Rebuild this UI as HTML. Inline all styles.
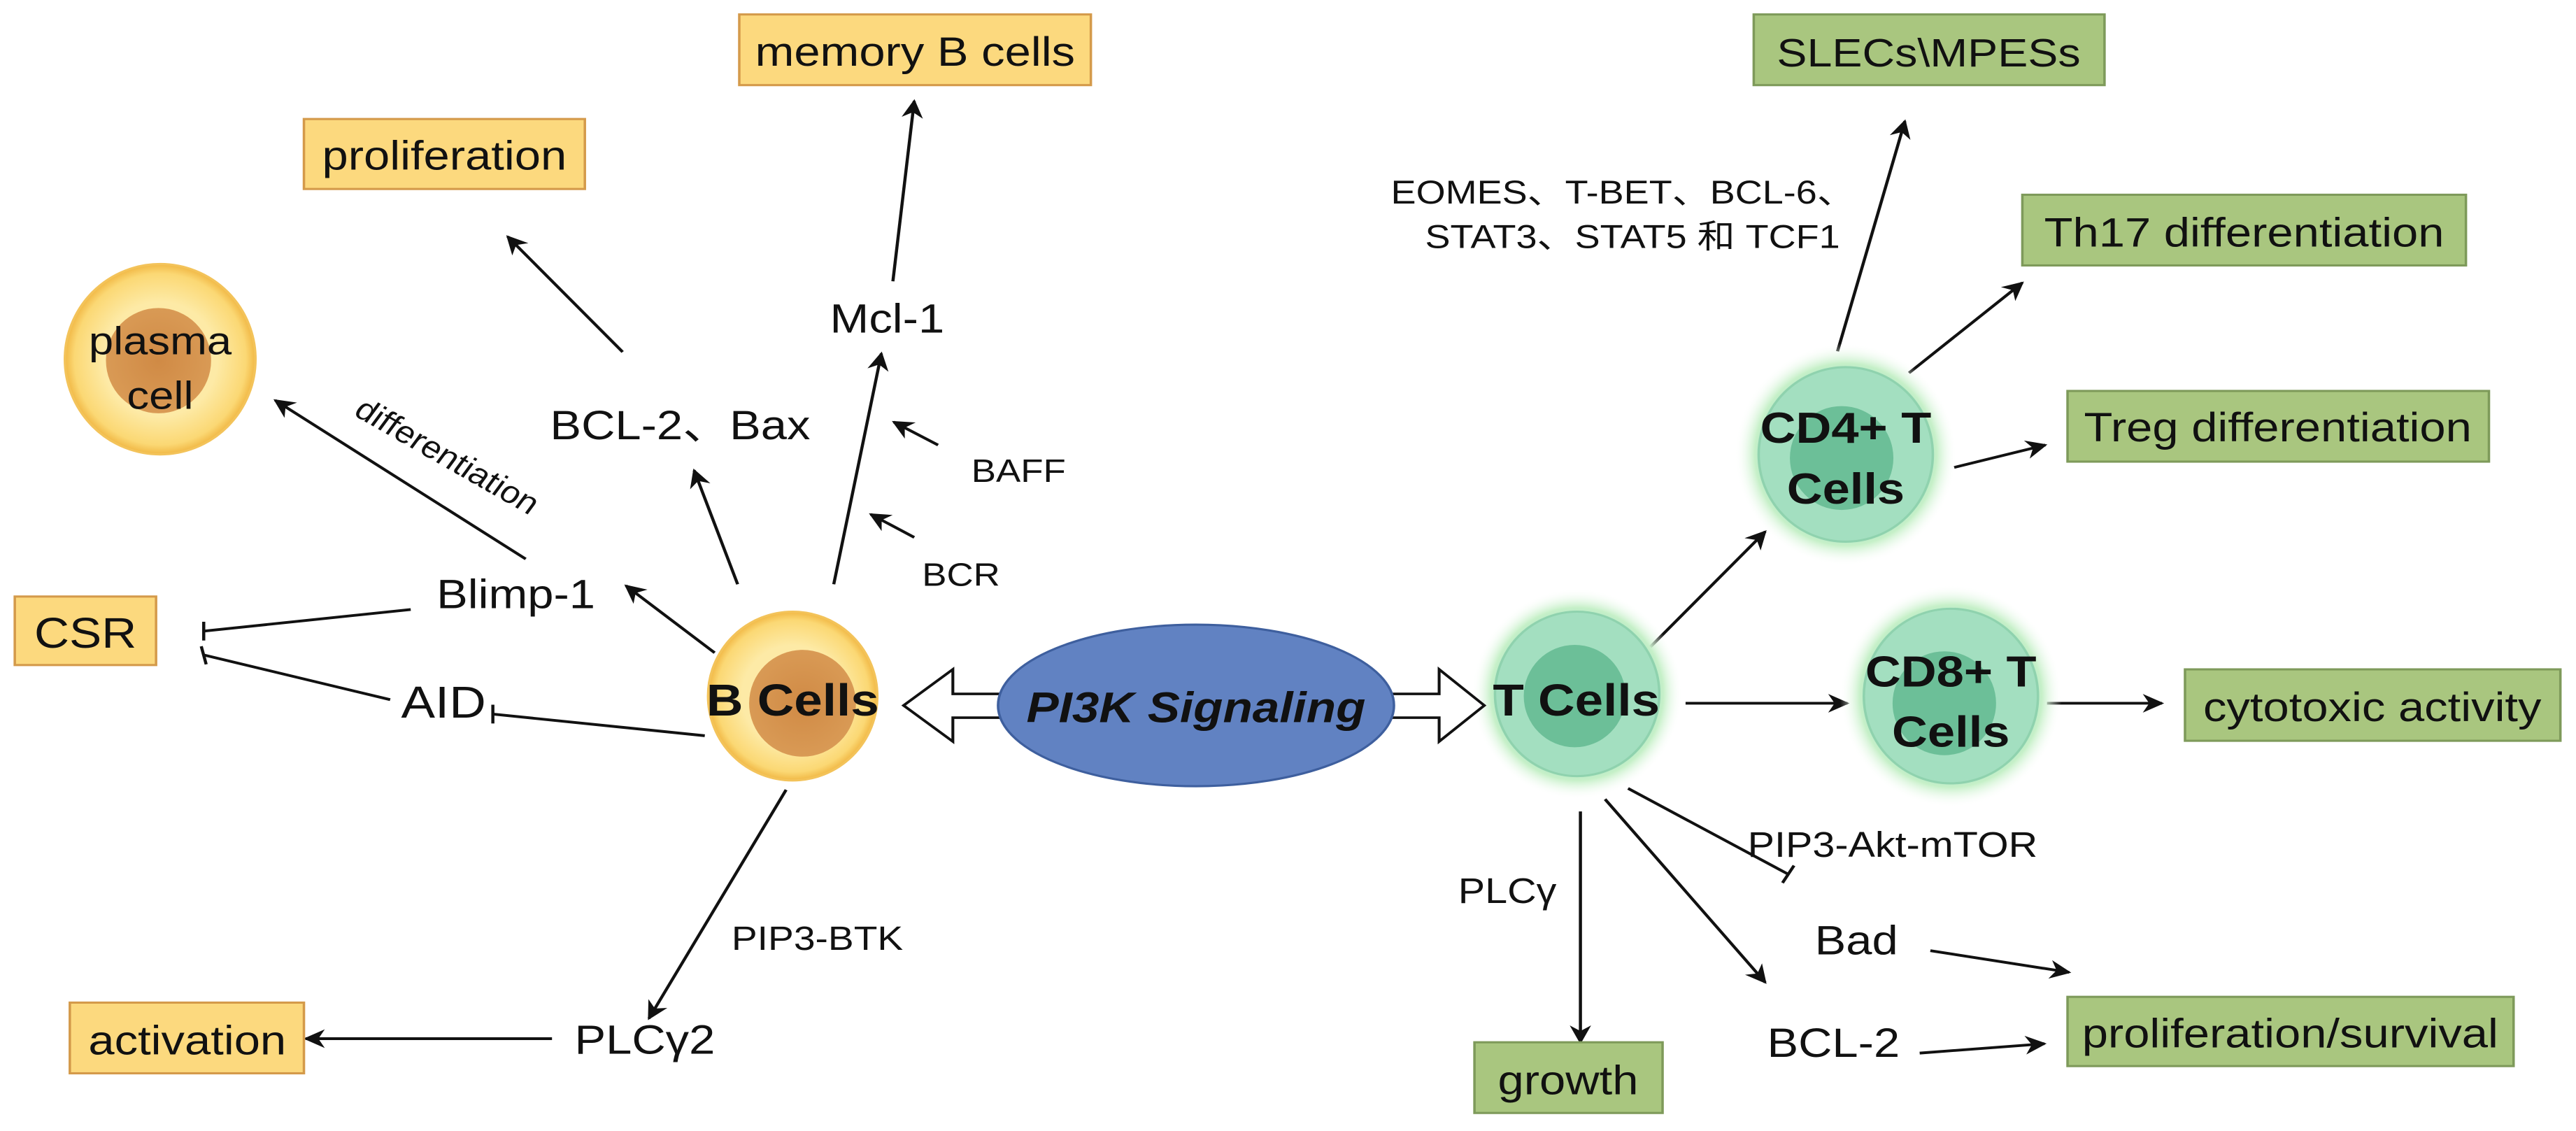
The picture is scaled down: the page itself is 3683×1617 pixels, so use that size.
<!DOCTYPE html>
<html><head><meta charset="utf-8"><style>
html,body{margin:0;padding:0;background:#fff;}
svg{display:block;}
text{font-family:"Liberation Sans","Noto Sans CJK SC",sans-serif;fill:#111;}
</style></head><body>
<svg width="3683" height="1617" viewBox="0 0 3136 1568" preserveAspectRatio="none" xmlns="http://www.w3.org/2000/svg">
<defs>
<marker id="a" viewBox="0 0 10 10" refX="9" refY="5" markerWidth="30" markerHeight="26" markerUnits="userSpaceOnUse" orient="auto"><path d="M0,0 L10,5 L0,10 L3,5 z" fill="#111"/></marker>
<radialGradient id="by" cx="50%" cy="50%" r="50%"><stop offset="0.6" stop-color="#fdeaa6"/><stop offset="0.9" stop-color="#fbd874"/><stop offset="1" stop-color="#f1b845"/></radialGradient>
<radialGradient id="bn" cx="50%" cy="50%" r="50%"><stop offset="0" stop-color="#d08a45"/><stop offset="1" stop-color="#d99a55"/></radialGradient>
<radialGradient id="tg" cx="50%" cy="50%" r="50%"><stop offset="0.7" stop-color="#a9e3c4"/><stop offset="0.82" stop-color="#c6f0c8"/><stop offset="1" stop-color="#ffffff" stop-opacity="0"/></radialGradient>
</defs>
<g stroke-width="3.8" fill="none" stroke="#111">
<line x1="758" y1="488" x2="618" y2="328" marker-end="url(#a)"/>
<line x1="1087" y1="390" x2="1113" y2="140" marker-end="url(#a)"/>
<line x1="1015" y1="810" x2="1073" y2="490" marker-end="url(#a)"/>
<line x1="1142" y1="617" x2="1088" y2="585" marker-end="url(#a)"/>
<line x1="1113" y1="745" x2="1060" y2="713" marker-end="url(#a)"/>
<line x1="898" y1="810" x2="845" y2="652" marker-end="url(#a)"/>
<line x1="870" y1="905" x2="762" y2="812" marker-end="url(#a)"/>
<line x1="640" y1="775" x2="335" y2="555" marker-end="url(#a)"/>
<line x1="500" y1="845" x2="248" y2="875"/>
<line x1="248" y1="862" x2="248" y2="888"/>
<line x1="475" y1="970" x2="248" y2="908"/>
<line x1="245" y1="896" x2="251" y2="921"/>
<line x1="858" y1="1020" x2="600" y2="990"/>
<line x1="600" y1="977" x2="600" y2="1003"/>
<line x1="957" y1="1095" x2="790" y2="1412" marker-end="url(#a)"/>
<line x1="672" y1="1440" x2="372" y2="1440" marker-end="url(#a)"/>
<line x1="2237" y1="487" x2="2319" y2="168" marker-end="url(#a)"/>
<line x1="2324" y1="517" x2="2462" y2="392" marker-end="url(#a)"/>
<line x1="2379" y1="648" x2="2490" y2="617" marker-end="url(#a)"/>
<line x1="2009" y1="897" x2="2149" y2="737" marker-end="url(#a)"/>
<line x1="2052" y1="975" x2="2249" y2="975" marker-end="url(#a)"/>
<line x1="2492" y1="975" x2="2632" y2="975" marker-end="url(#a)"/>
<line x1="1982" y1="1093" x2="2177" y2="1212"/>
<line x1="2170" y1="1224" x2="2184" y2="1200"/>
<line x1="1924" y1="1125" x2="1924" y2="1445" marker-end="url(#a)"/>
<line x1="1954" y1="1108" x2="2149" y2="1362" marker-end="url(#a)"/>
<line x1="2350" y1="1318" x2="2519" y2="1348" marker-end="url(#a)"/>
<line x1="2337" y1="1460" x2="2489" y2="1447" marker-end="url(#a)"/>
</g>
<g stroke-width="3">
<rect x="900" y="20" width="428" height="98" fill="#fcd97e" stroke="#d49a4a"/>
<rect x="370" y="165" width="342" height="97" fill="#fcd97e" stroke="#d49a4a"/>
<rect x="18" y="827" width="172" height="95" fill="#fcd97e" stroke="#d49a4a"/>
<rect x="85" y="1390" width="285" height="98" fill="#fcd97e" stroke="#d49a4a"/>
<rect x="2135" y="20" width="427" height="98" fill="#a9c67f" stroke="#7e9a5a"/>
<rect x="2462" y="270" width="540" height="98" fill="#a9c67f" stroke="#7e9a5a"/>
<rect x="2517" y="542" width="513" height="98" fill="#a9c67f" stroke="#7e9a5a"/>
<rect x="2660" y="928" width="457" height="99" fill="#a9c67f" stroke="#7e9a5a"/>
<rect x="2517" y="1382" width="543" height="96" fill="#a9c67f" stroke="#7e9a5a"/>
<rect x="1795" y="1445" width="229" height="98" fill="#a9c67f" stroke="#7e9a5a"/>
</g>
<ellipse cx="195" cy="498" rx="116" ry="132" fill="url(#by)" stroke="#f3c35a" stroke-width="3"/>
<ellipse cx="193" cy="500" rx="64" ry="73" fill="url(#bn)"/>
<ellipse cx="965" cy="965" rx="103" ry="117" fill="url(#by)" stroke="#f3c35a" stroke-width="3"/>
<ellipse cx="977" cy="975" rx="65" ry="74" fill="url(#bn)"/>
<ellipse cx="1920" cy="962" rx="128" ry="146" fill="url(#tg)"/>
<ellipse cx="1920" cy="962" rx="100" ry="114" fill="#a3dfc0" stroke="#8fd2ae" stroke-width="3"/>
<ellipse cx="1917" cy="965" rx="62" ry="71" fill="#6cbf98"/>
<ellipse cx="2247" cy="630" rx="135" ry="154" fill="url(#tg)"/>
<ellipse cx="2247" cy="630" rx="106" ry="121" fill="#a3dfc0" stroke="#8fd2ae" stroke-width="3"/>
<ellipse cx="2242" cy="635" rx="63" ry="72" fill="#6cbf98"/>
<ellipse cx="2375" cy="965" rx="135" ry="154" fill="url(#tg)"/>
<ellipse cx="2375" cy="965" rx="106" ry="121" fill="#a3dfc0" stroke="#8fd2ae" stroke-width="3"/>
<ellipse cx="2367" cy="975" rx="63" ry="72" fill="#6cbf98"/>
<path d="M1225,962 L1160,962 L1160,928 L1100,978 L1160,1028 L1160,995 L1225,995 Z" fill="#fff" stroke="#111" stroke-width="3.5"/>
<path d="M1690,962 L1752,962 L1752,928 L1807,978 L1752,1028 L1752,995 L1690,995 Z" fill="#fff" stroke="#111" stroke-width="3.5"/>
<ellipse cx="1456" cy="978" rx="241" ry="112" fill="#6182c2" stroke="#3e5f9e" stroke-width="3"/>
<g text-anchor="middle" font-size="57">
<text x="1114" y="91">memory B cells</text>
<text x="541" y="235">proliferation</text>
<text x="104" y="898" font-size="59">CSR</text>
<text x="228" y="1462">activation</text>
<text x="195" y="491" font-size="54">plasma</text>
<text x="195" y="567" font-size="54">cell</text>
<text x="1080" y="461">Mcl-1</text>
<text x="828" y="609">BCL-2、Bax</text>
<text x="628" y="843">Blimp-1</text>
<text x="540" y="995" font-size="62">AID</text>
<text x="1240" y="668" font-size="45">BAFF</text>
<text x="1170" y="812" font-size="45">BCR</text>
<text x="995" y="1317" font-size="47">PIP3-BTK</text>
<text x="785" y="1461">PLCγ2</text>
<text x="545" y="647" font-size="43" transform="rotate(33 545 632)">differentiation</text>
<text x="965" y="992" font-size="62" font-weight="bold">B Cells</text>
<text x="1456" y="1001" font-size="59" font-weight="bold" font-style="italic">PI3K Signaling</text>
<text x="1919" y="992" font-size="62" font-weight="bold">T Cells</text>
<text x="2247" y="614" font-size="60" font-weight="bold">CD4+ T</text>
<text x="2247" y="698" font-size="60" font-weight="bold">Cells</text>
<text x="2375" y="952" font-size="60" font-weight="bold">CD8+ T</text>
<text x="2375" y="1035" font-size="60" font-weight="bold">Cells</text>
<text x="2348" y="92" font-size="55">SLECs\MPESs</text>
<text x="2732" y="342">Th17 differentiation</text>
<text x="2773" y="612">Treg differentiation</text>
<text x="2888" y="1000">cytotoxic activity</text>
<text x="2788" y="1452">proliferation/survival</text>
<text x="1909" y="1517">growth</text>
<text x="2304" y="1188" font-size="49">PIP3-Akt-mTOR</text>
<text x="1835" y="1252" font-size="49">PLCγ</text>
<text x="2260" y="1323">Bad</text>
<text x="2232" y="1465">BCL-2</text>
</g>
<g font-size="46" text-anchor="end">
<text x="2258" y="282">EOMES、T-BET、BCL-6、</text>
<text x="2240" y="344">STAT3、STAT5 和 TCF1</text>
</g>
</svg>
</body></html>
